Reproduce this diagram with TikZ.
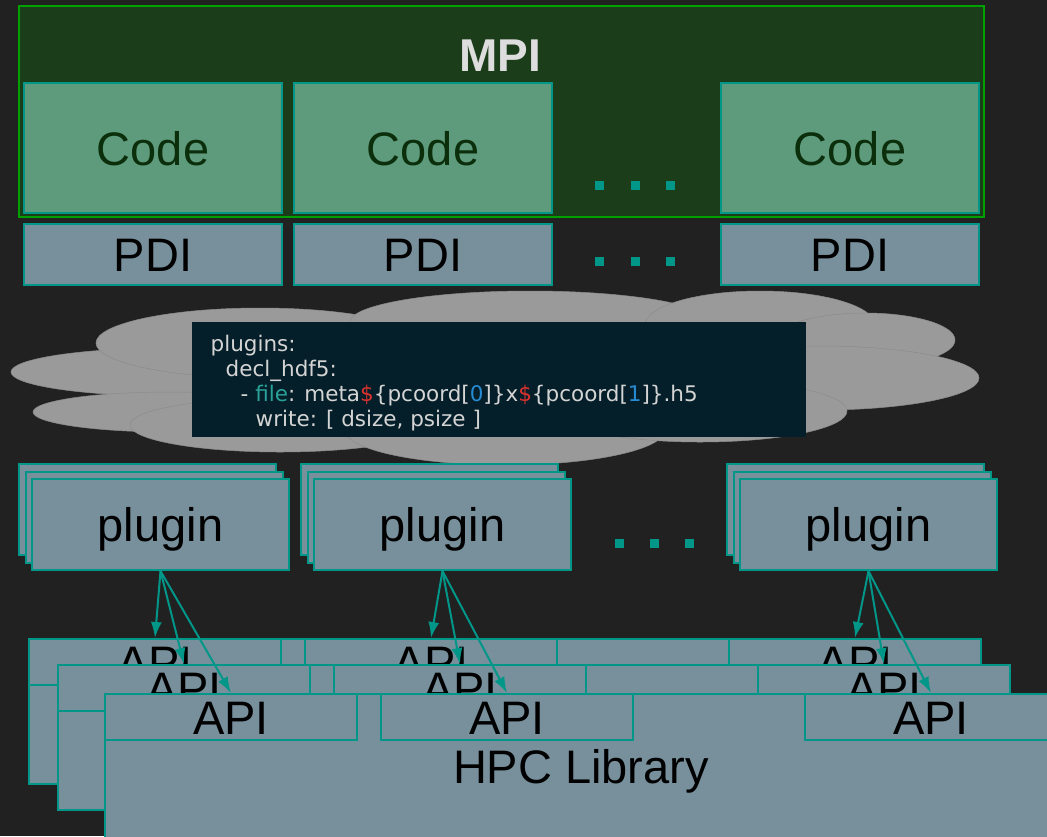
\documentclass[tikz,border=0pt]{standalone}
\usepackage{fontspec}
\setmainfont{Liberation Sans}
\newfontfamily\yamlfont{DejaVu Sans}
\usetikzlibrary{arrows.meta}

\definecolor{bgdark}{HTML}{212121}
\definecolor{mpifill}{HTML}{1B3D1A}
\definecolor{mpiborder}{HTML}{00A000}
\definecolor{mpitext}{HTML}{DDDDDD}
\definecolor{codefill}{HTML}{5E9A7C}
\definecolor{codetext}{HTML}{0B2E0B}
\definecolor{slate}{HTML}{78909C}
\definecolor{tealline}{HTML}{009688}
\definecolor{cloudgray}{HTML}{9A9A9A}
\definecolor{yamlbg}{HTML}{041F29}
\definecolor{yamlfg}{HTML}{D4D4D4}
\definecolor{yamlkey}{HTML}{2AA198}
\definecolor{yamlsigil}{HTML}{DC322F}
\definecolor{yamlnum}{HTML}{268BD2}

\tikzset{
  bigtext/.style={font=\fontsize{47}{50}\selectfont, text height=34pt, text depth=0pt},
  tealbox/.style={draw=tealline, line width=2pt, anchor=north west, inner sep=0pt},
  codebox/.style={tealbox, fill=codefill, text=codetext, bigtext, minimum width=258pt, minimum height=130pt},
  pdibox/.style={tealbox, fill=slate, text=black, bigtext, minimum width=258pt, minimum height=61pt},
  pluginbox/.style={tealbox, fill=slate, text=black, bigtext, minimum width=257pt, minimum height=91pt},
  libbox/.style={tealbox, fill=slate, text=black, bigtext, minimum width=952pt, minimum height=145pt},
  apibox/.style={tealbox, fill=slate, text=black, bigtext, minimum width=252pt, minimum height=46pt},
  flow/.style={draw=tealline, line width=2pt, -{Latex[length=16pt,width=11pt]}},
  puff/.style={fill=cloudgray, draw=cloudgray!90!black, line width=0.5pt},
  yamlline/.style={font=\yamlfont\fontsize{21.5}{25}\selectfont, text=yamlfg, anchor=base west, inner sep=0pt},
}

\begin{document}
\begin{tikzpicture}[x=1pt, y=-1pt]
\fill[bgdark] (0,0) rectangle (1047,836);
\useasboundingbox (0,0) rectangle (1047,836);

% MPI frame, codes and PDI
\node[anchor=north west, fill=mpifill, draw=mpiborder, line width=2pt, inner sep=0pt, minimum width=965pt, minimum height=211pt] (mpi) at (18,5) {};
\node[bigtext, font=\bfseries\fontsize{46}{50}\selectfont, text=mpitext] (mpititle) at (500.5,54) {MPI};
\foreach \x [count=\i] in {23,293,720} {
  \node[codebox] (code\i) at (\x,82) {Code};
  \node[pdibox] (pdi\i) at (\x,223) {PDI};
}
\foreach \x in {599,635,670} {
  \fill[tealline] (\x-4.5,180.5) rectangle ++(9,9);
  \fill[tealline] (\x-4.5,256.5) rectangle ++(9,9);
}

% cloud
\foreach \cx/\cy/\rx/\ry in {170/372/159/24, 170/412/137/20, 260/343/164/35, 280/425/150/27, 505/430/160/35, 530/322/180/31, 760/325/115/34, 865/340/90/27, 820/378/159/32, 700/411/147/31}
  \draw[puff] (\cx,\cy) ellipse [x radius=\rx pt, y radius=\ry pt];

% configuration
\node[anchor=north west, fill=yamlbg, inner sep=0pt, minimum width=614pt, minimum height=115pt] (yamlbox) at (192,322) {};
\node[yamlline] (yaml1) at (210.5,351) {plugins:};
\node[yamlline] (yaml2) at (225.5,376) {decl\_hdf5:};
\node[yamlline] (yaml3) at (240.5,401) {- \textcolor{yamlkey}{file}: meta\textcolor{yamlsigil}{\$}\{pcoord[\textcolor{yamlnum}{0}]\}x\textcolor{yamlsigil}{\$}\{pcoord[\textcolor{yamlnum}{1}]\}.h5};
\node[yamlline] (yaml4) at (255.5,426) {write: [ dsize, psize ]};

% plugins
\foreach \x [count=\i] in {18,300,726} {
  \node[pluginbox] (plugin\i-back) at (\x,463) {};
  \node[pluginbox] (plugin\i-mid) at (\x+6.5,470.5) {};
  \node[pluginbox] (plugin\i) at (\x+13,478) {plugin};
}
\foreach \x in {619,654,689}
  \fill[tealline] (\x-4.5,538.5) rectangle ++(9,9);

% libraries with their APIs
\foreach \lx/\ly/\txt [count=\l] in {28/638/{}, 57/664/{}, 104/693/{HPC Library}} {
  \node[libbox] (lib\l) at (\lx,\ly) {\txt};
  \foreach \dx [count=\i] in {0,276,700}
    \node[apibox] (api\l\i) at (\lx+\dx,\ly) {API};
}

\foreach \i in {1,2,3}
  \foreach \l in {1,2,3}
    \draw[flow] (plugin\i.south) -- (api\l\i.north);
\end{tikzpicture}
\end{document}
